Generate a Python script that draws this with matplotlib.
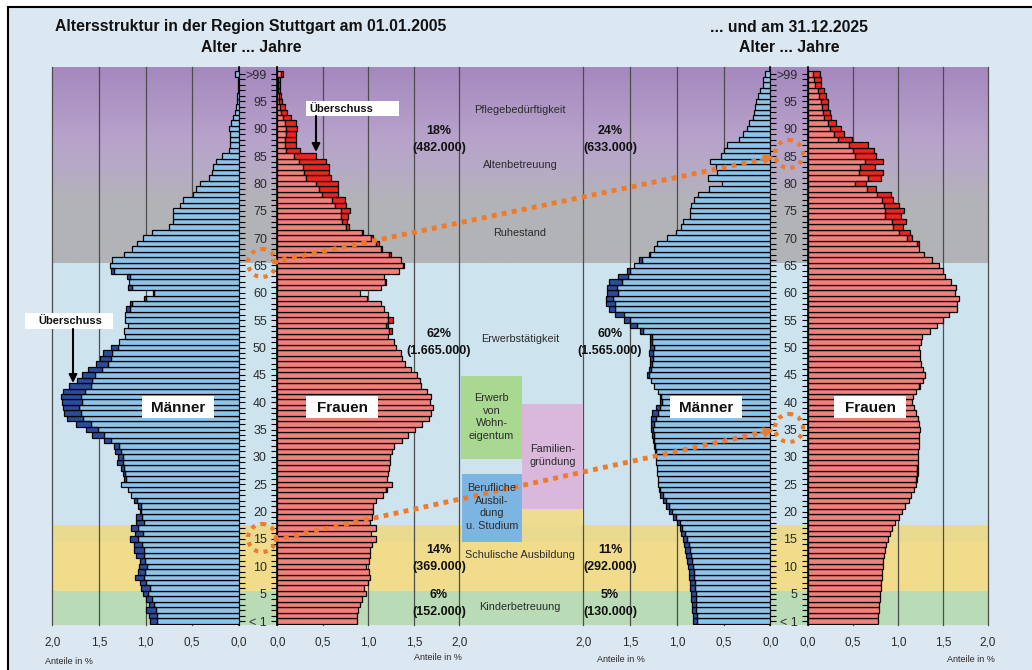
import numpy as np
import matplotlib.pyplot as plt
from matplotlib.patches import Rectangle, Circle
from matplotlib.colors import LinearSegmentedColormap

W, H = 1032, 670
plt.rcParams["font.family"] = ["Liberation Sans", "DejaVu Sans"]

# --------------------------------------------------------------------------- #
#  DATA  (share of population in %, ages 0..99 and >99)
# --------------------------------------------------------------------------- #
AGES = np.arange(0, 101)
AGE_TICKS = list(range(0, 101, 5))
AGE_LABELS = ["< 1"] + [str(a) for a in range(5, 100, 5)] + [">99"]
X_TICKS = [0.0, 0.5, 1.0, 1.5, 2.0]
X_LABELS = ["0,0", "0,5", "1,0", "1,5", "2,0"]

men_2005 = [
    0.95, 0.96, 0.99, 0.96, 1.00, 1.03, 1.05, 1.06, 1.11, 1.08,
    1.07, 1.06, 1.10, 1.12, 1.12, 1.17, 1.11, 1.16, 1.10, 1.10,
    1.06, 1.08, 1.12, 1.16, 1.19, 1.26, 1.23, 1.24, 1.26, 1.31,
    1.30, 1.33, 1.34, 1.44, 1.57, 1.64, 1.75, 1.84, 1.87, 1.88,
    1.90, 1.91, 1.89, 1.82, 1.73, 1.68, 1.62, 1.53, 1.49, 1.46,
    1.37, 1.28, 1.22, 1.23, 1.19, 1.22, 1.22, 1.21, 1.17, 1.02,
    0.92, 1.19, 1.18, 1.20, 1.37, 1.38, 1.36, 1.23, 1.14, 1.09,
    1.03, 0.935, 0.75, 0.71, 0.70, 0.70, 0.63, 0.60, 0.49, 0.46,
    0.42, 0.32, 0.29, 0.28, 0.24, 0.18, 0.10, 0.09, 0.09, 0.095,
    0.10, 0.08, 0.06, 0.04, 0.03, 0.02, 0.015, 0.01, 0.01, 0.01,
    0.04]
women_2005 = [
    0.88, 0.88, 0.89, 0.91, 0.93, 0.97, 0.95, 1.00, 1.02, 1.01,
    0.98, 1.01, 1.02, 1.02, 1.04, 1.08, 1.03, 1.08, 1.02, 1.04,
    1.05, 1.05, 1.09, 1.16, 1.20, 1.26, 1.21, 1.22, 1.23, 1.24,
    1.24, 1.26, 1.28, 1.37, 1.44, 1.51, 1.59, 1.67, 1.69, 1.71,
    1.68, 1.69, 1.65, 1.58, 1.57, 1.54, 1.47, 1.40, 1.37, 1.36,
    1.30, 1.28, 1.22, 1.26, 1.22, 1.27, 1.22, 1.17, 1.14, 0.99,
    0.91, 1.14, 1.19, 1.17, 1.34, 1.39, 1.36, 1.25, 1.15, 1.12,
    1.05, 0.94, 0.79, 0.77, 0.78, 0.80, 0.75, 0.74, 0.67, 0.67,
    0.67, 0.59, 0.57, 0.57, 0.54, 0.43, 0.25, 0.20, 0.20, 0.21,
    0.22, 0.20, 0.15, 0.11, 0.08, 0.05, 0.046, 0.035, 0.03, 0.03,
    0.066]
men_2025 = [
    0.83, 0.83, 0.84, 0.84, 0.85, 0.85, 0.86, 0.86, 0.87, 0.87,
    0.88, 0.89, 0.90, 0.91, 0.92, 0.93, 0.95, 0.97, 1.00, 1.04,
    1.08, 1.12, 1.15, 1.18, 1.19, 1.20, 1.20, 1.21, 1.21, 1.22,
    1.22, 1.23, 1.24, 1.25, 1.26, 1.28, 1.28, 1.28, 1.26, 1.22,
    1.18, 1.18, 1.20, 1.24, 1.28, 1.32, 1.30, 1.29, 1.29, 1.30,
    1.29, 1.29, 1.29, 1.39, 1.50, 1.56, 1.66, 1.73, 1.755, 1.755,
    1.75, 1.75, 1.72, 1.63, 1.53, 1.46, 1.40, 1.30, 1.24, 1.21,
    1.10, 1.01, 0.95, 0.93, 0.86, 0.86, 0.85, 0.82, 0.77, 0.66,
    0.52, 0.67, 0.57, 0.58, 0.64, 0.53, 0.50, 0.46, 0.34, 0.29,
    0.25, 0.23, 0.18, 0.17, 0.16, 0.15, 0.13, 0.11, 0.08, 0.075,
    0.057]
women_2025 = [
    0.78, 0.78, 0.79, 0.79, 0.80, 0.80, 0.81, 0.81, 0.82, 0.82,
    0.83, 0.84, 0.85, 0.86, 0.87, 0.89, 0.91, 0.94, 0.97, 1.01,
    1.05, 1.08, 1.12, 1.15, 1.18, 1.20, 1.21, 1.22, 1.22, 1.22,
    1.22, 1.22, 1.23, 1.24, 1.24, 1.25, 1.24, 1.22, 1.20, 1.18,
    1.16, 1.17, 1.20, 1.25, 1.28, 1.30, 1.28, 1.26, 1.25, 1.25,
    1.24, 1.26, 1.27, 1.36, 1.43, 1.50, 1.57, 1.66, 1.66, 1.68,
    1.63, 1.64, 1.59, 1.52, 1.50, 1.46, 1.375, 1.29, 1.24, 1.23,
    1.16, 1.14, 1.06, 1.09, 1.04, 1.07, 1.01, 0.95, 0.92, 0.76,
    0.65, 0.81, 0.84, 0.75, 0.84, 0.76, 0.73, 0.67, 0.49, 0.40,
    0.37, 0.31, 0.26, 0.25, 0.23, 0.22, 0.20, 0.18, 0.15, 0.15,
    0.14]

# --------------------------------------------------------------------------- #
#  STYLE
# --------------------------------------------------------------------------- #
FIG_BG = "#dbe7f1"
M_LIGHT, M_DARK = "#8ec4ea", "#2b4c9b"
W_LIGHT, W_DARK = "#f2807b", "#e8271f"
GRID = "#4d4d4d"
ORANGE = "#ef7a29"
TXT = "#2b2b2b"
YLIM = (-0.73, 101.28)


def px_axes(x0, y0, x1, y1, **kw):
    return fig.add_axes([x0 / W, 1 - y1 / H, (x1 - x0) / W, (y1 - y0) / H], **kw)


fig = plt.figure(figsize=(W / 100, H / 100), dpi=100)
fig.patch.set_facecolor("white")

# frame / background
bg = fig.add_axes([0, 0, 1, 1])
bg.set_zorder(-10)
bg.set_xlim(0, W)
bg.set_ylim(H, 0)
bg.axis("off")
bg.add_patch(Rectangle((8, 7), 1040, 680, facecolor=FIG_BG, edgecolor="black", lw=1.5))

# age bands
bands = px_axes(52.3, 67, 988, 625)
bands.set_zorder(-5)
bands.set_xlim(0, 1)
bands.set_ylim(*YLIM)
bands.axis("off")
bands.axhspan(YLIM[0], 5.5, color="#b9dbb5", lw=0)
bands.axhspan(5.5, 14.5, color="#f1dc8b", lw=0)
bands.axhspan(14.5, 17.5, color="#e9da90", lw=0)
bands.axhspan(17.5, 65.5, color="#cde4ef", lw=0)
cmap = LinearSegmentedColormap.from_list(
    "old", [(0, "#b2b3b6"), (0.32, "#b3b3b8"), (0.49, "#b6aac6"),
            (0.63, "#b8a3cb"), (1, "#a588be")])
bands.imshow(np.linspace(0, 1, 256).reshape(-1, 1), cmap=cmap, aspect="auto",
             origin="lower", extent=[0, 1, 65.5, YLIM[1]])
bands.set_xlim(0, 1)
bands.set_ylim(*YLIM)


def pyramid(men, women, mx, wx):
    men, women = np.asarray(men), np.asarray(women)
    common = np.minimum(men, women)
    ex_m, ex_w = men - common, women - common
    axm = px_axes(mx[0], 67, mx[1], 625)
    axw = px_axes(wx[0], 67, wx[1], 625)
    for ax, light, dark, ex in ((axm, M_LIGHT, M_DARK, ex_m), (axw, W_LIGHT, W_DARK, ex_w)):
        ax.set_facecolor("none")
        ax.barh(AGES, common, height=1.0, color=light, edgecolor="black", lw=0.9, zorder=3)
        sel = ex > 0.004
        ax.barh(AGES[sel], ex[sel], left=common[sel], height=1.0, color=dark,
                edgecolor="black", lw=0.9, zorder=3)
        ax.set_ylim(*YLIM)
        ax.set_xticks(X_TICKS, X_LABELS)
        ax.grid(axis="x", color=GRID, lw=0.9)
        for gl in ax.get_xgridlines():
            gl.set_clip_on(False)
        ax.set_axisbelow(True)
        ax.tick_params(axis="x", length=0, pad=8, labelsize=8.5, labelcolor=TXT)
        for s in ax.spines.values():
            s.set_visible(False)
    axm.set_xlim(2.0, 0)
    axw.set_xlim(0, 2.0)
    axm.spines["right"].set_visible(True)
    axm.spines["right"].set_linewidth(1.2)
    axw.spines["left"].set_visible(True)
    axw.spines["left"].set_linewidth(1.2)
    axm.yaxis.tick_right()
    axm.set_yticks(AGES, [""] * len(AGES))
    axm.tick_params(axis="y", direction="out", length=4, width=0.8)
    axw.set_yticks(AGE_TICKS, AGE_LABELS)
    axw.set_yticks(AGES, minor=True)
    axw.tick_params(axis="y", which="both", direction="out", length=4.5, width=0.8,
                    labelsize=9, pad=3, labelcolor=TXT)
    return axm, axw


pyramid(men_2005, women_2005, (52.3, 238.7), (277.3, 459.3))
pyramid(men_2025, women_2025, (583.3, 770.3), (807.7, 988))

# --------------------------------------------------------------------------- #
#  OVERLAY (titles, labels, boxes, arrows)
# --------------------------------------------------------------------------- #
ov = fig.add_axes([0, 0, 1, 1])
ov.set_zorder(10)
ov.set_facecolor("none")
ov.set_xlim(0, W)
ov.set_ylim(H, 0)
ov.axis("off")

for x, t1 in ((251, "Altersstruktur in der Region Stuttgart am 01.01.2005"),
              (789, "... und am 31.12.2025")):
    ov.text(x, 27, t1, ha="center", va="center", fontsize=11.3, weight="bold", color="#111")
    ov.text(x, 47, "Alter ... Jahre", ha="center", va="center", fontsize=11.3,
            weight="bold", color="#111")

for x, y in ((49, 661), (601, 660)):
    ov.text(x - 4, y, "Anteile in %", ha="left", va="center", fontsize=6.5, color=TXT)
for x, y in ((462, 657), (995, 660)):
    ov.text(x, y, "Anteile in %", ha="right", va="center", fontsize=6.5, color=TXT)

# coloured life-phase boxes in the middle column
ov.add_patch(Rectangle((522, 509), 61, 16, facecolor="#eedc90", lw=0))
ov.add_patch(Rectangle((461, 376), 61, 83, facecolor="#a9d890", lw=0))
ov.add_patch(Rectangle((522, 404), 61, 105, facecolor="#dab8dc", lw=0))
ov.add_patch(Rectangle((462, 474), 60, 68, facecolor="#7cb5e2", lw=0))
ov.text(491.5, 417, "Erwerb\nvon\nWohn-\neigentum", ha="center", va="center",
        fontsize=7.8, color=TXT, linespacing=1.3)
ov.text(552.5, 455.5, "Familien-\ngründung", ha="center", va="center",
        fontsize=7.8, color=TXT, linespacing=1.3)
ov.text(492, 507, "Berufliche\nAusbil-\ndung\nu. Studium", ha="center", va="center",
        fontsize=7.8, color=TXT, linespacing=1.3)

for y, t in ((110, "Pflegebedürftigkeit"), (165, "Altenbetreuung"), (233, "Ruhestand"),
             (339, "Erwerbstätigkeit"), (555, "Schulische Ausbildung"),
             (607, "Kinderbetreuung")):
    ov.text(520, y, t, ha="center", va="center", fontsize=7.8, color=TXT)

PCT_L = ["18%", "62%", "14%", "6%"]
CNT_L = ["(482.000)", "(1.665.000)", "(369.000)", "(152.000)"]
PCT_R = ["24%", "60%", "11%", "5%"]
CNT_R = ["(633.000)", "(1.565.000)", "(292.000)", "(130.000)"]
for i, y in enumerate((131.5, 334, 550, 595)):
    for x, p, c in ((439, PCT_L[i], CNT_L[i]), (610, PCT_R[i], CNT_R[i])):
        ov.text(x, y, p, ha="center", va="center", fontsize=9, weight="bold", color="#111")
        ov.text(x, y + 17, c, ha="center", va="center", fontsize=9, weight="bold", color="#111")

# Männer / Frauen labels
for cx, t in ((178, "Männer"), (342, "Frauen"), (706, "Männer"), (870, "Frauen")):
    ov.add_patch(Rectangle((cx - 36, 396), 72, 22, facecolor="white", lw=0))
    ov.text(cx, 407.5, t, ha="center", va="center", fontsize=11, weight="bold", color="#111")

# Überschuss notes
ov.add_patch(Rectangle((25, 313), 88, 16, facecolor="white", lw=0))
ov.text(70, 321, "Überschuss", ha="center", va="center", fontsize=8, weight="bold", color="#111")
ov.annotate("", xy=(73, 383), xytext=(73, 329),
            arrowprops=dict(arrowstyle="-|>", color="black", lw=1.5, mutation_scale=12,
                            shrinkA=0, shrinkB=0))
ov.add_patch(Rectangle((306, 101), 93, 15, facecolor="white", lw=0))
ov.text(309, 108.5, "Überschuss", ha="left", va="center", fontsize=8, weight="bold", color="#111")
ov.annotate("", xy=(316, 152), xytext=(316, 116),
            arrowprops=dict(arrowstyle="-|>", color="black", lw=1.5, mutation_scale=12,
                            shrinkA=0, shrinkB=0))

# orange dotted connections
for (cx, cy) in ((262, 263), (789, 154), (262, 538), (789, 428)):
    ov.add_patch(Circle((cx, cy), 14, fill=False, edgecolor=ORANGE, lw=3,
                        linestyle=(0, (1, 1.3))))
for (x0, y0), (x1, y1) in (((272, 262), (774, 157)), ((274, 540), (774, 430))):
    ov.plot([x0, x1 - 12], [y0, y1 + (y0 - y1) * 12 / (x1 - x0)], color=ORANGE, lw=3.5,
            linestyle=(0, (1, 1.1)), dash_capstyle="butt")
    ov.annotate("", xy=(x1, y1), xytext=(x1 - 14, y1 + (y0 - y1) * 14 / (x1 - x0)),
                arrowprops=dict(arrowstyle="-|>", color=ORANGE, lw=1, mutation_scale=16,
                                shrinkA=0, shrinkB=0))

fig.savefig("out.png", dpi=100)
